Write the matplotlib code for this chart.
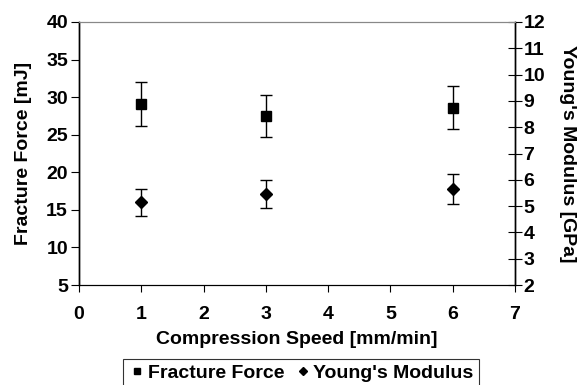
import matplotlib.pyplot as plt
from matplotlib.lines import Line2D

plt.rcParams['font.family'] = ['Liberation Sans', 'DejaVu Sans']
plt.rcParams['font.weight'] = 'bold'

# compression speed [mm/min]
speed = [1, 3, 6]
# fracture force [mJ] and error
force = [29.1, 27.5, 28.6]
force_err = [2.9, 2.8, 2.9]
# young's modulus [GPa] and error
modulus = [5.14, 5.45, 5.65]
modulus_err = [0.5, 0.54, 0.56]

fig = plt.figure(figsize=(5.8, 3.85), dpi=100)
ax = fig.add_axes([79/580, 1 - 285/385, (515-79)/580, (285-22)/385])
ax2 = ax.twinx()

ax.errorbar(speed, force, yerr=force_err, fmt='s', color='black',
            markersize=7, capsize=4, elinewidth=1, capthick=1)
ax2.errorbar(speed, modulus, yerr=modulus_err, fmt='D', color='black',
             markersize=6, capsize=4, elinewidth=1, capthick=1)

ax.set_xlim(0, 7)
ax.set_ylim(5, 40)
ax2.set_ylim(2, 12)
ax.set_xticks(range(0, 8))
ax.set_yticks(range(5, 41, 5))
ax2.set_yticks(range(2, 13))

fs = 14
ax.tick_params(axis='x', direction='out', length=5, labelsize=fs, pad=10)
ax.tick_params(axis='y', direction='out', length=6, labelsize=fs, pad=2)
ax2.tick_params(axis='y', direction='inout', length=10, labelsize=fs, pad=1)

for a in (ax, ax2):
    a.spines['top'].set_color('#888888')
    a.spines['top'].set_linewidth(0.8)
    a.spines['left'].set_linewidth(1)
    a.spines['right'].set_linewidth(1)

ax.set_xlabel('Compression Speed [mm/min]', fontsize=fs, fontweight='bold', labelpad=6)
ax.set_ylabel('Fracture Force [mJ]', fontsize=fs, fontweight='bold', labelpad=10)
ax2.set_ylabel("Young's Modulus [GPa]", fontsize=fs, fontweight='bold',
               rotation=-90, labelpad=22)

handles = [Line2D([], [], marker='s', color='black', linestyle='none', markersize=5),
           Line2D([], [], marker='D', color='black', linestyle='none', markersize=4.5)]
labels = ['Fracture Force', "Young's Modulus"]
leg = fig.legend(handles, labels, loc='center', bbox_to_anchor=(301/580, 1 - 373/385),
                 ncol=2, fontsize=fs, frameon=True, fancybox=False,
                 edgecolor='black', handletextpad=0.1, columnspacing=0.5,
                 handlelength=0.9, borderpad=0.25, borderaxespad=0)
leg.get_frame().set_linewidth(0.8)

fig.savefig('out.png', dpi=100)
